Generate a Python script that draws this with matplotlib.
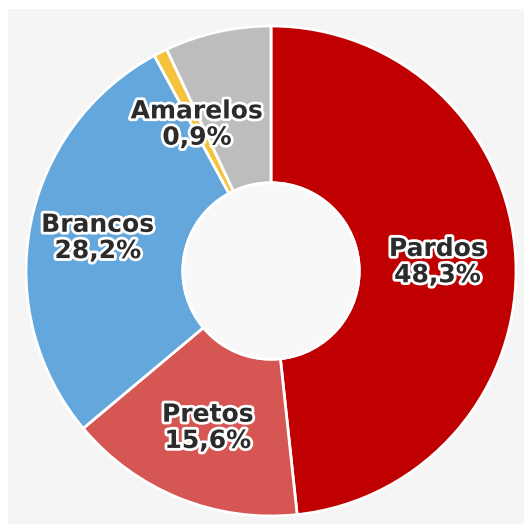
import matplotlib.pyplot as plt
import matplotlib.patheffects as pe
import numpy as np

# composition shares (%), clockwise from the top
categories = ['Pardos', 'Pretos', 'Brancos', 'Amarelos', '']
shares = [48.3, 15.6, 28.2, 0.9, 7.0]
labels = ['Pardos\n48,3%', 'Pretos\n15,6%', 'Brancos\n28,2%', 'Amarelos\n0,9%', '']
colors = ['#c00000', '#d65654', '#64a7dc', '#f5c33b', '#bdbdbd']
label_r = [0.68, 0.69, 0.72, 0.67, 0]

fig = plt.figure(figsize=(5.24, 5.24), dpi=100, facecolor='white')
# light grey panel behind the chart
fig.patches.append(plt.Rectangle((8 / 524, 0), 1, 1 - 9 / 524, transform=fig.transFigure,
                                 facecolor='#f5f5f5', edgecolor='none', zorder=-5))

ax = fig.add_axes([26 / 524, 8 / 524, 490 / 524, 490 / 524])
ax.set_facecolor('none')

wedges, _ = ax.pie(shares, colors=colors, startangle=90, counterclock=False,
                   wedgeprops=dict(width=0.64, edgecolor='white', linewidth=2))
ax.add_patch(plt.Circle((0, 0), 0.36, facecolor='#f8f8f8', edgecolor='white', linewidth=2))

outline = [pe.withStroke(linewidth=4, foreground='white')]
for w, lab, r in zip(wedges, labels, label_r):
    if not lab:
        continue
    ang = np.deg2rad((w.theta1 + w.theta2) / 2)
    ax.text(r * np.cos(ang), r * np.sin(ang), lab, ha='center', va='center',
            fontsize=18, fontweight='bold', color='#2b2b2b', linespacing=1.12,
            path_effects=outline)

ax.set_xlim(-1, 1)
ax.set_ylim(-1, 1)
ax.set_aspect('equal')
ax.axis('off')

fig.savefig('out.png', dpi=100, facecolor=fig.get_facecolor())
